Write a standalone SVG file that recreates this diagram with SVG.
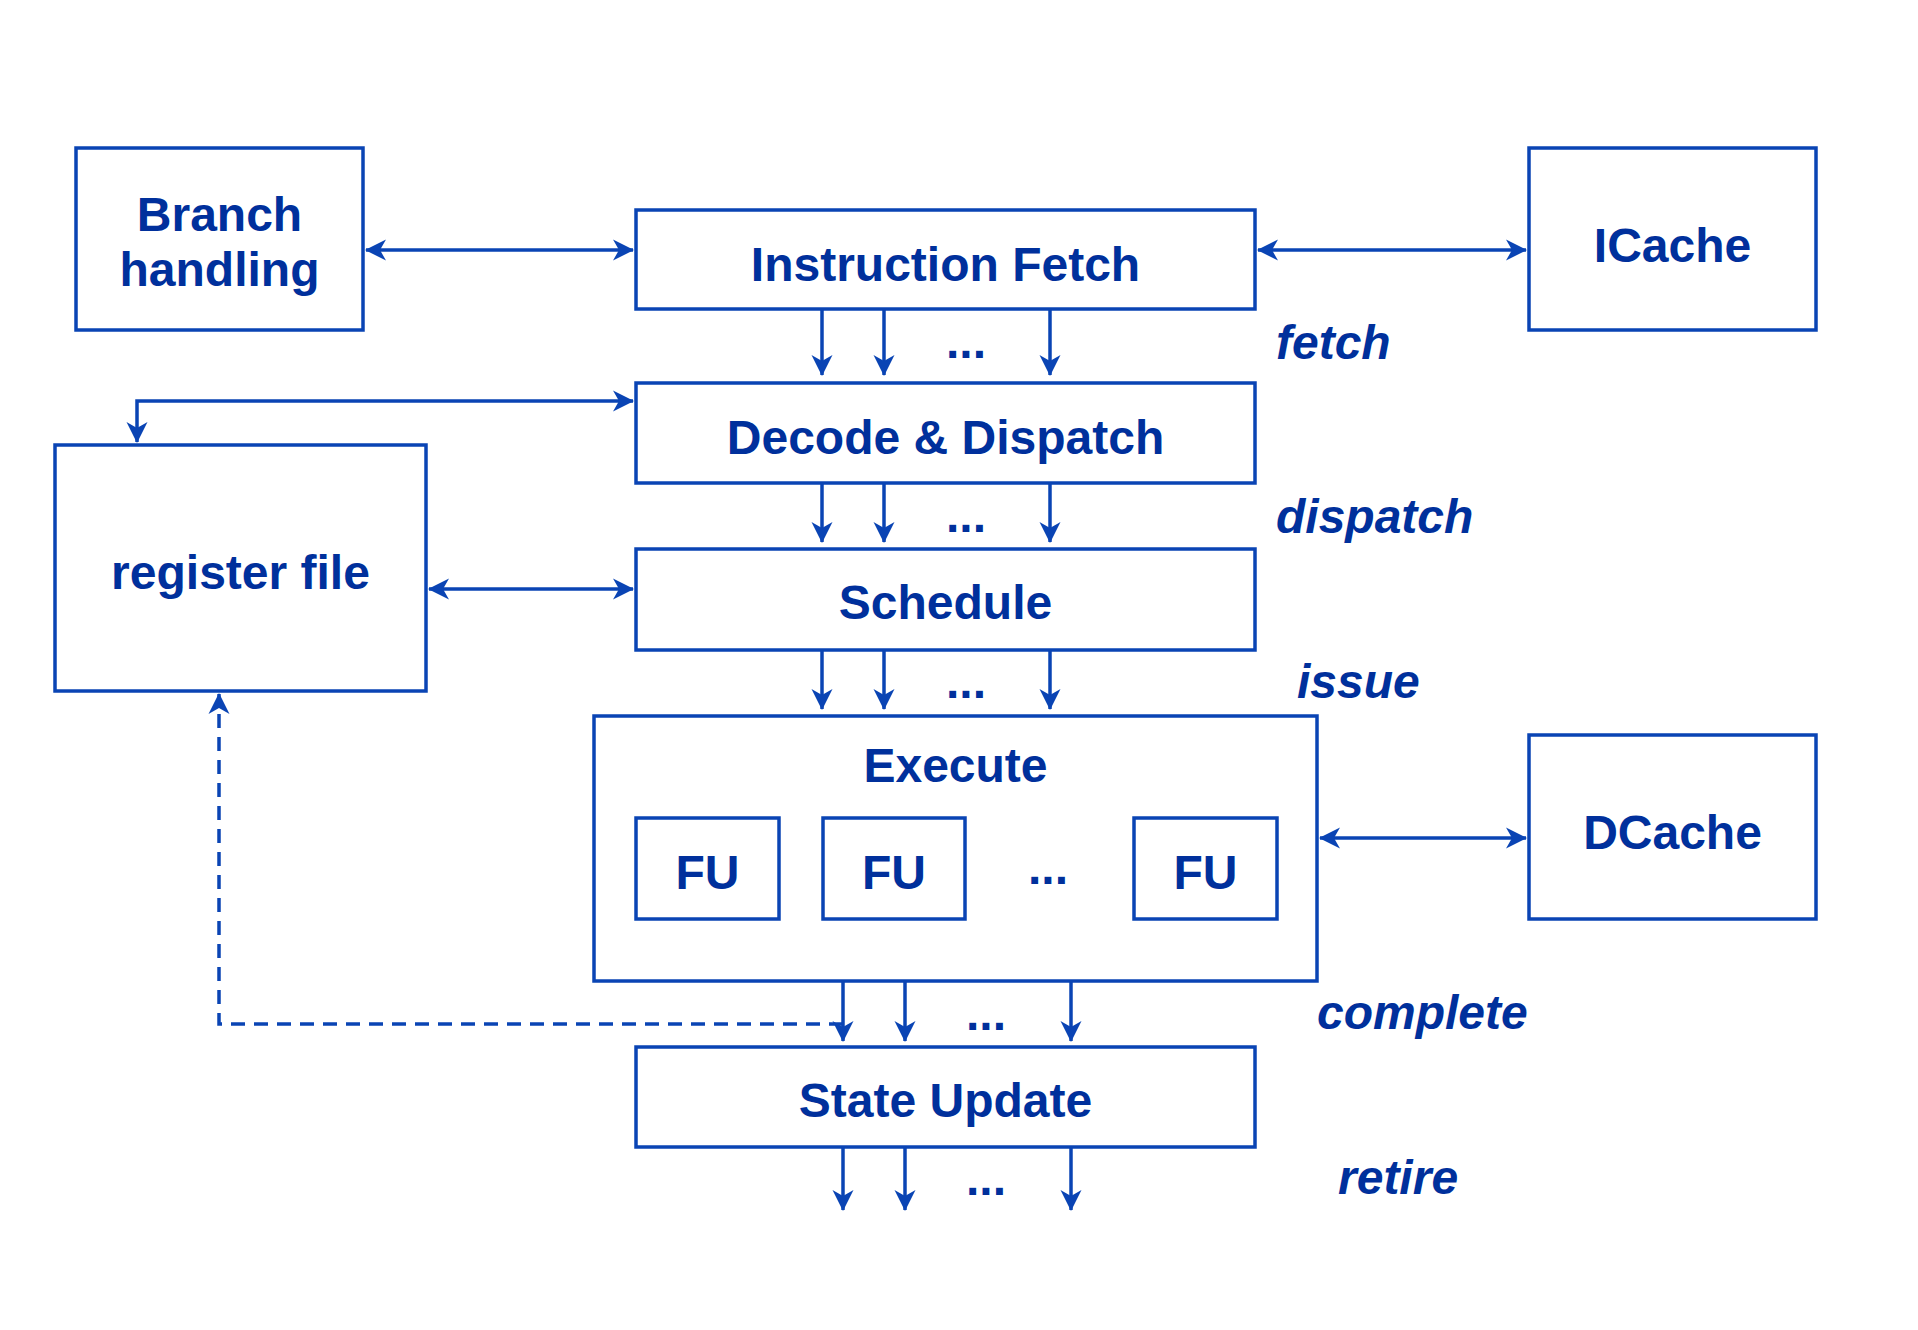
<svg xmlns="http://www.w3.org/2000/svg" width="1918" height="1330" viewBox="0 0 1918 1330">
<style>
.box{fill:none;stroke:#0a44b4;stroke-width:3.5}
.t{font-family:"Liberation Sans",Arial,sans-serif;font-weight:bold;font-size:48px;fill:#00309c;text-anchor:middle}
.lbl{font-family:"Liberation Sans",Arial,sans-serif;font-weight:bold;font-style:italic;font-size:48px;fill:#00309c}
.c{fill:none;stroke:#0a44b4;stroke-width:3.5}
.arr{marker-end:url(#a)}
.bi{marker-start:url(#a);marker-end:url(#a)}
.dash{stroke-dasharray:14 9}
</style>
<defs>
<marker id="a" markerWidth="22" markerHeight="22" refX="20" refY="11" orient="auto-start-reverse" markerUnits="userSpaceOnUse">
<path d="M21,11 L0,0.5 L6,11 L0,21.5 z" fill="#0a44b4"/>
</marker>
</defs>
<rect width="1918" height="1330" fill="#ffffff"/>

<g id="branch"><rect class="box" x="76" y="148" width="287" height="182"/><text class="t" x="219.5" y="231">Branch</text><text class="t" x="219.5" y="286">handling</text></g>
<g id="ifetch"><rect class="box" x="636" y="210" width="619" height="99"/><text class="t" x="945.5" y="281">Instruction Fetch</text></g>
<g id="icache"><rect class="box" x="1529" y="148" width="287" height="182"/><text class="t" x="1672.5" y="262">ICache</text></g>
<g id="decode"><rect class="box" x="636" y="383" width="619" height="100"/><text class="t" x="945.5" y="454">Decode &amp; Dispatch</text></g>
<g id="regfile"><rect class="box" x="55" y="445" width="371" height="246"/><text class="t" x="240.5" y="589">register file</text></g>
<g id="schedule"><rect class="box" x="636" y="549" width="619" height="101"/><text class="t" x="945.5" y="619">Schedule</text></g>
<g id="execute"><rect class="box" x="594" y="716" width="723" height="265"/><text class="t" x="955.5" y="782">Execute</text>
<text class="t" x="1048" y="884">...</text></g>
<g id="fu1"><rect class="box" x="636" y="818" width="143" height="101"/><text class="t" x="707.5" y="889">FU</text></g>
<g id="fu2"><rect class="box" x="823" y="818" width="142" height="101"/><text class="t" x="894" y="889">FU</text></g>
<g id="fu3"><rect class="box" x="1134" y="818" width="143" height="101"/><text class="t" x="1205.5" y="889">FU</text></g>
<g id="dcache"><rect class="box" x="1529" y="735" width="287" height="184"/><text class="t" x="1672.5" y="849">DCache</text></g>
<g id="stateupdate"><rect class="box" x="636" y="1047" width="619" height="100"/><text class="t" x="945.5" y="1117">State Update</text></g>

<g id="stage-labels">
<text class="lbl" x="1276" y="359">fetch</text>
<text class="lbl" x="1276" y="533">dispatch</text>
<text class="lbl" x="1297" y="698">issue</text>
<text class="lbl" x="1317" y="1029">complete</text>
<text class="lbl" x="1338" y="1194">retire</text>
</g>

<g id="connectors">
<line class="c bi" x1="366" y1="250" x2="633" y2="250"/>
<line class="c bi" x1="1258" y1="250" x2="1526" y2="250"/>
<polyline class="c bi" points="137,442 137,401 633,401"/>
<line class="c bi" x1="429" y1="589" x2="633" y2="589"/>
<line class="c bi" x1="1320" y1="838" x2="1526" y2="838"/>

<line class="c arr" x1="822" y1="309" x2="822" y2="375"/>
<line class="c arr" x1="884" y1="309" x2="884" y2="375"/>
<line class="c arr" x1="1050" y1="309" x2="1050" y2="375"/>
<text class="t" x="966" y="358">...</text>

<line class="c arr" x1="822" y1="483" x2="822" y2="542"/>
<line class="c arr" x1="884" y1="483" x2="884" y2="542"/>
<line class="c arr" x1="1050" y1="483" x2="1050" y2="542"/>
<text class="t" x="966" y="532">...</text>

<line class="c arr" x1="822" y1="650" x2="822" y2="709"/>
<line class="c arr" x1="884" y1="650" x2="884" y2="709"/>
<line class="c arr" x1="1050" y1="650" x2="1050" y2="709"/>
<text class="t" x="966" y="698">...</text>

<line class="c arr" x1="843" y1="981" x2="843" y2="1041"/>
<line class="c arr" x1="905" y1="981" x2="905" y2="1041"/>
<line class="c arr" x1="1071" y1="981" x2="1071" y2="1041"/>
<text class="t" x="986" y="1030">...</text>

<line class="c arr" x1="843" y1="1147" x2="843" y2="1210"/>
<line class="c arr" x1="905" y1="1147" x2="905" y2="1210"/>
<line class="c arr" x1="1071" y1="1147" x2="1071" y2="1210"/>
<text class="t" x="986" y="1195">...</text>

<polyline class="c dash arr" points="843,1024 219,1024 219,694"/>
</g>
</svg>
